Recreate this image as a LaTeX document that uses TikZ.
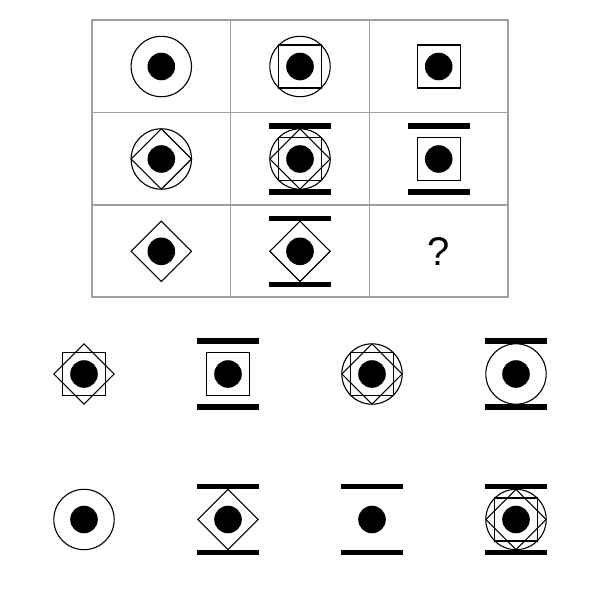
\documentclass[tikz,border=0pt]{standalone}
\usepackage{fontspec}
\setmainfont{Liberation Sans}
\usepackage{tikz}

\begin{document}
\begin{tikzpicture}[x=1pt, y=-1pt,
    gridline/.style={draw=gray!75, line width=1.3pt},
    outline/.style={draw=black, line width=1.1pt},
    ring/.pic={\draw [outline] (0,0) circle (30.2);},
    box/.pic={\draw [outline] (-21.5,-21.5) rectangle (21.5,21.5);},
    diam/.pic={\draw [outline] (0,-30.2) -- (30.2,0) -- (0,30.2) -- (-30.2,0) -- cycle;},
    rails/.pic={\fill (-31,-30.2) rectangle (31,-35.8);
                \fill (-31,30.2) rectangle (31,35.8);},
    dot/.pic={\fill (0,0) circle (13.8);}]
    \useasboundingbox (0,0) rectangle (600,600);

    % Grid
    \draw [gridline] (92,20) rectangle (508,297);
    \foreach \x in {230.7,369.3} \draw [gridline] (\x,20) -- (\x,297);
    \foreach \y in {112.5,205} \draw [gridline] (92,\y) -- (508,\y);

    % Cells {c11, c12, ...}
    \coordinate (c11) at (161.3,66.5);
    \coordinate (c12) at (300,66.5);
    \coordinate (c13) at (438.7,66.5);
    \coordinate (c21) at (161.3,159);
    \coordinate (c22) at (300,159);
    \coordinate (c23) at (438.7,159);
    \coordinate (c31) at (161.3,251.3);
    \coordinate (c32) at (300,251.3);
    \coordinate (c33) at (438.7,251.3);

    \pic at (c11) {ring};  \pic at (c11) {dot};
    \pic at (c12) {ring};  \pic at (c12) {box};  \pic at (c12) {dot};
    \pic at (c13) {box};   \pic at (c13) {dot};
    \pic at (c21) {ring};  \pic at (c21) {diam}; \pic at (c21) {dot};
    \pic at (c22) {ring};  \pic at (c22) {diam}; \pic at (c22) {box};
    \pic at (c22) {rails}; \pic at (c22) {dot};
    \pic at (c23) {box};   \pic at (c23) {rails}; \pic at (c23) {dot};
    \pic at (c31) {diam};  \pic at (c31) {dot};
    \pic at (c32) {diam};  \pic at (c32) {rails}; \pic at (c32) {dot};
    \node (qmark) at (c33) {\fontsize{40}{48}\selectfont ?};

    % Answer choices {a1 ... a8}
    \coordinate (a1) at (84,374);
    \coordinate (a2) at (228,374);
    \coordinate (a3) at (372,374);
    \coordinate (a4) at (516,374);
    \coordinate (a5) at (84,519.5);
    \coordinate (a6) at (228,519.5);
    \coordinate (a7) at (372,519.5);
    \coordinate (a8) at (516,519.5);

    \pic at (a1) {box};   \pic at (a1) {diam};  \pic at (a1) {dot};
    \pic at (a2) {box};   \pic at (a2) {rails}; \pic at (a2) {dot};
    \pic at (a3) {ring};  \pic at (a3) {box};   \pic at (a3) {diam}; \pic at (a3) {dot};
    \pic at (a4) {ring};  \pic at (a4) {rails}; \pic at (a4) {dot};
    \pic at (a5) {ring};  \pic at (a5) {dot};
    \pic at (a6) {diam};  \pic at (a6) {rails}; \pic at (a6) {dot};
    \pic at (a7) {rails}; \pic at (a7) {dot};
    \pic at (a8) {ring};  \pic at (a8) {box};   \pic at (a8) {diam};
    \pic at (a8) {rails}; \pic at (a8) {dot};

\end{tikzpicture}
\end{document}
